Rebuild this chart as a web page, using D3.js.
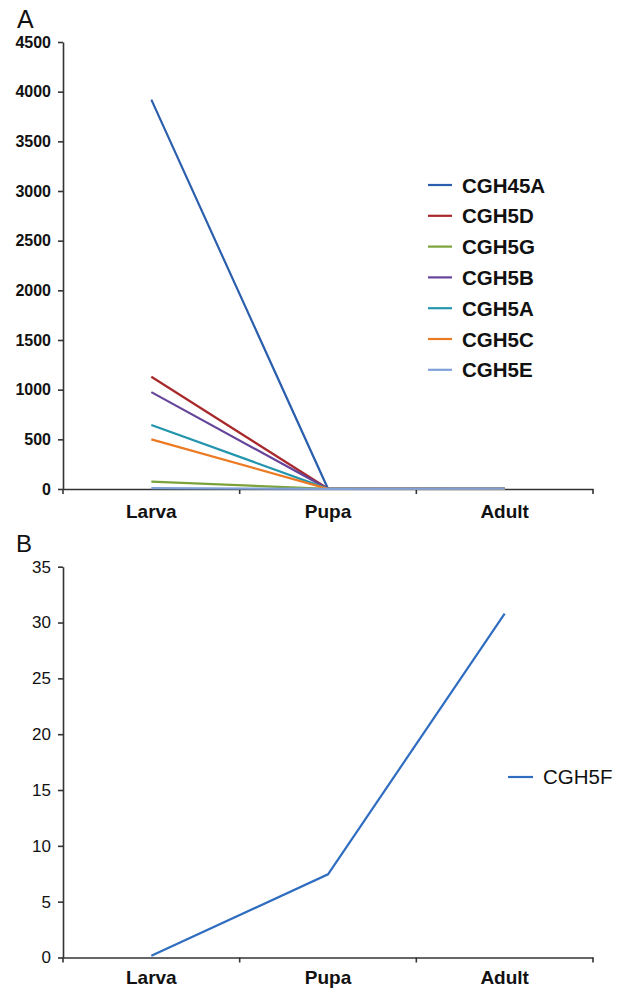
<!DOCTYPE html>
<html><head><meta charset="utf-8">
<script src="https://cdn.jsdelivr.net/npm/d3@7"></script>
<style>body{margin:0;background:#fff}svg{display:block}text{font-family:"Liberation Sans",Arial,sans-serif}</style>
</head><body>
<svg id="c" width="626" height="992"></svg>
<script>
const stages = ["Larva","Pupa","Adult"];
const seriesA = ["CGH45A","CGH5D","CGH5G","CGH5B","CGH5A","CGH5C","CGH5E"];
const CGH45A = [3920, 2, 1];
const CGH5D  = [1130, 2, 1];
const CGH5G  = [75, 1, 1];
const CGH5B  = [975, 2, 1];
const CGH5A  = [645, 2, 1];
const CGH5C  = [500, 2, 1];
const CGH5E  = [8, 2, 3];
const colorsA = ["#2B5FAD","#A8282B","#7CA23A","#65449A","#2396AD","#EC7A22","#7FA1D8"];
const ticksA = [0,500,1000,1500,2000,2500,3000,3500,4000,4500];
const seriesB = ["CGH5F"];
const CGH5F = [0.15, 7.45, 30.8];
const ticksB = [0,5,10,15,20,25,30,35];

const valuesA = [CGH45A,CGH5D,CGH5G,CGH5B,CGH5A,CGH5C,CGH5E];
const svg = d3.select("#c");

function panel(opts){
  const g = svg.append("g");
  const x = d3.scaleBand().domain(stages).range([63,593]);
  const y = d3.scaleLinear().domain(opts.domain).range([opts.y0, opts.y1]);
  const yAx = g.append("g").attr("transform","translate(63,0)")
    .call(d3.axisLeft(y).tickValues(opts.ticks).tickFormat(d3.format("d")).tickSize(5).tickSizeOuter(0).tickPadding(7));
  yAx.selectAll("text").style("font-size",opts.tickFont+"px").style("font-weight",opts.tickWeight).attr("fill","#111");
  yAx.selectAll("line,path").attr("stroke","#333").attr("stroke-width",1.6);
  const xAx = g.append("g").attr("transform",`translate(0,${opts.y0})`)
    .call(d3.axisBottom(x).tickSize(0).tickPadding(opts.labPad));
  xAx.select("path").attr("stroke","#333").attr("stroke-width",1.6);
  xAx.selectAll("text").style("font-size","19px").style("font-weight","bold").attr("fill","#111");
  const bounds = [x.range()[0]].concat(stages.map(s=>x(s)+x.bandwidth()));
  g.selectAll("line.bt").data(bounds).join("line").attr("class","bt")
    .attr("x1",d=>d).attr("x2",d=>d).attr("y1",opts.y0).attr("y2",opts.y0+5)
    .attr("stroke","#333").attr("stroke-width",1.6);
  const line = d3.line().x((d,i)=>x(stages[i])+x.bandwidth()/2).y(d=>y(d));
  opts.values.forEach((v,i)=>{
    g.append("path").attr("d",line(v)).attr("fill","none")
      .attr("stroke",opts.colors[i]).attr("stroke-width",2.2);
  });
  return {x,y,g};
}

panel({domain:[0,4500],y0:489,y1:42,ticks:ticksA,values:valuesA,colors:colorsA,tickFont:16,tickWeight:"bold",labPad:16});
panel({domain:[0,35],y0:957.5,y1:566.7,ticks:ticksB,values:[CGH5F],colors:["#2F6DC0"],tickFont:17,tickWeight:"normal",labPad:13});

const legA = svg.append("g");
seriesA.forEach((s,i)=>{
  const yy = 185 + i*30.8;
  legA.append("line").attr("x1",428).attr("x2",452).attr("y1",yy).attr("y2",yy)
    .attr("stroke",colorsA[i]).attr("stroke-width",2.2);
  legA.append("text").attr("x",462).attr("y",yy+7.5).text(s)
    .style("font-size","20.5px").style("font-weight","bold").attr("fill","#111");
});
const legB = svg.append("g");
seriesB.forEach((s,i)=>{
  legB.append("line").attr("x1",508).attr("x2",533).attr("y1",777).attr("y2",777)
    .attr("stroke","#2F6DC0").attr("stroke-width",2.2);
  legB.append("text").attr("x",543).attr("y",784).text(s)
    .style("font-size","20.5px").attr("fill","#111");
});
svg.append("text").attr("x",17).attr("y",28).text("A").style("font-size","25px").attr("fill","#111");
svg.append("text").attr("x",16).attr("y",552).text("B").style("font-size","24px").attr("fill","#111");
</script>
</body></html>
